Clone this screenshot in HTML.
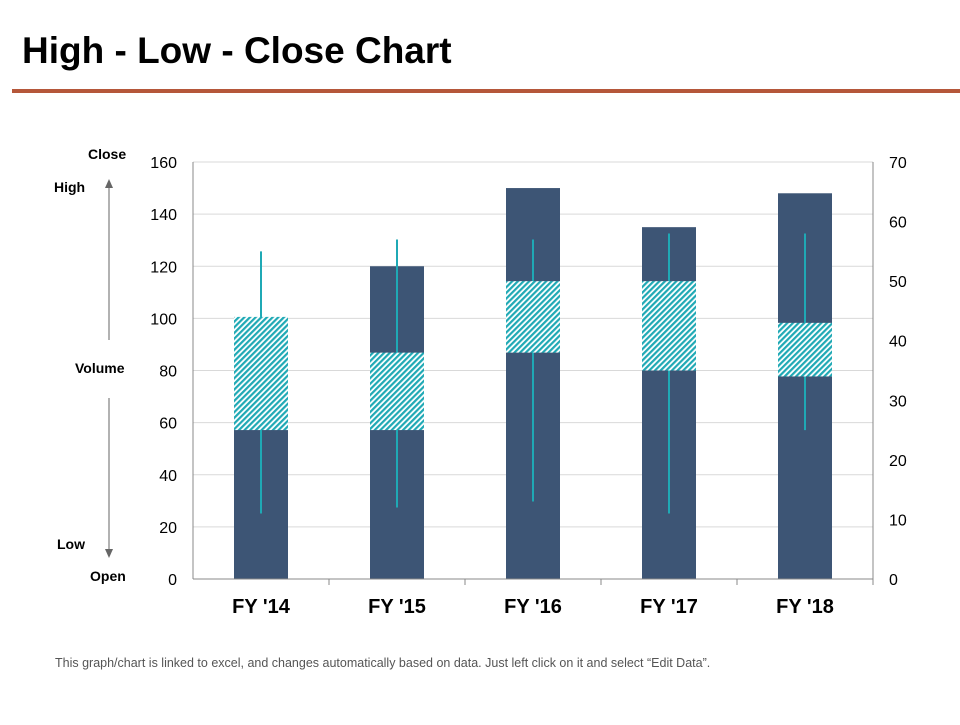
<!DOCTYPE html>
<html><head><meta charset="utf-8"><style>
body{margin:0;width:960px;height:720px;background:#fff;font-family:"Liberation Sans",sans-serif;overflow:hidden}
</style></head><body>
<svg width="960" height="720">
<defs><pattern id="hatch" width="4" height="4" patternUnits="userSpaceOnUse" patternTransform="rotate(45)">
<rect width="4" height="4" fill="#fff"/><rect width="2.2" height="4" fill="#1fa9b5"/></pattern></defs>
<text x="22" y="63" font-size="37" font-weight="bold" fill="#000">High - Low - Close Chart</text>
<rect x="12" y="89" width="948" height="4" fill="#b5573a"/>
<g id="grid"></g><g id="marks"></g><g id="axes"></g>
<text x="88" y="159" font-size="14" font-weight="bold">Close</text>
<text x="54" y="192" font-size="14" font-weight="bold">High</text>
<text x="75" y="373" font-size="14" font-weight="bold">Volume</text>
<text x="57" y="549" font-size="14" font-weight="bold">Low</text>
<text x="90" y="581" font-size="14" font-weight="bold">Open</text>
<line x1="109" y1="340" x2="109" y2="182" stroke="#666"/>
<path d="M105,188 L109,179 L113,188Z" fill="#666"/>
<line x1="109" y1="398" x2="109" y2="554" stroke="#666"/>
<path d="M105,549 L109,558 L113,549Z" fill="#666"/>
<text x="55" y="667" font-size="12.5" fill="#555">This graph/chart is linked to excel, and changes automatically  based on data. Just left click on it and select “Edit Data”.</text>
</svg>
<script>
const categories=["FY '14","FY '15","FY '16","FY '17","FY '18"];
const volume=[100,120,150,135,148];
const high=[55,57,57,58,58];
const low=[11,12,13,11,25];
const open=[25,25,38,35,34];
const close=[44,38,50,50,43];
const leftTicks=[0,20,40,60,80,100,120,140,160];
const rightTicks=[0,10,20,30,40,50,60,70];
const NS="http://www.w3.org/2000/svg";
const X0=193,X1=873,Y0=579,Y1=162;
const yL=v=>Y0-(v/160)*(Y0-Y1), yR=v=>Y0-(v/70)*(Y0-Y1);
const bw=(X1-X0)/categories.length, xC=i=>X0+bw*(i+0.5);
function mk(p,t,a){const e=document.createElementNS(NS,t);for(const k in a)e.setAttribute(k,a[k]);document.getElementById(p).appendChild(e);return e;}
leftTicks.forEach(v=>{const y=yL(v);
 if(v>0){const g=mk('grid','line',{x1:X0,x2:X1,y1:y,y2:y,stroke:'#d9d9d9'});}
 const t=mk('axes','text',{x:177,y:y+6,'font-size':16,'text-anchor':'end'});t.textContent=v;
 });
rightTicks.forEach(v=>{const t=mk('axes','text',{x:889,y:yR(v)+6,'font-size':16});t.textContent=v;
 });
let a=mk('axes','line',{x1:X0,x2:X1,y1:Y0,y2:Y0,stroke:'#888'});
a=mk('axes','line',{x1:X0,x2:X0,y1:Y1,y2:Y0,stroke:'#888'});
a=mk('axes','line',{x1:X1,x2:X1,y1:Y1,y2:Y0,stroke:'#888'});
categories.forEach((c,i)=>{const x=xC(i);
 let e=mk('axes','line',{x1:X0+bw*(i+1),x2:X0+bw*(i+1),y1:Y0,y2:Y0+6,stroke:'#888'});
 
 const t=mk('axes','text',{x:x,y:613,'font-size':20,'font-weight':'bold','text-anchor':'middle'});t.textContent=c;
 
 e=mk('marks','rect',{x:x-27,y:yL(volume[i]),width:54,height:Y0-yL(volume[i]),fill:'#3d5575'});
 
 e=mk('marks','line',{x1:x,x2:x,y1:yR(high[i]),y2:yR(low[i]),stroke:'#1fa9b5','stroke-width':2});
 
 const t1=yR(Math.max(open[i],close[i])),t2=yR(Math.min(open[i],close[i]));
 e=mk('marks','rect',{x:x-27,y:t1,width:54,height:t2-t1,fill:'url(#hatch)'});
 
});
</script>
</body></html>
